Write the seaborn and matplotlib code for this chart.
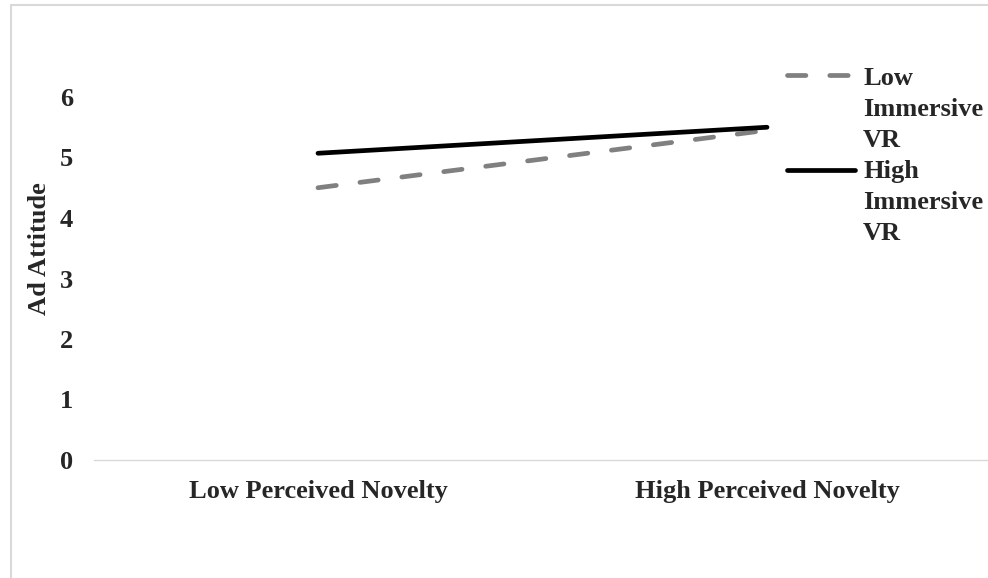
import matplotlib
matplotlib.use("Agg")
import matplotlib.pyplot as plt
import seaborn as sns
import pandas as pd
from matplotlib.lines import Line2D
from matplotlib.patches import Rectangle

# ---- data ----
categories = ["Low Perceived Novelty", "High Perceived Novelty"]
low_immersive = [4.50, 5.45]
high_immersive = [5.07, 5.50]
series_names = ["Low Immersive VR", "High Immersive VR"]
legend_lines = [["Low", "Immersive", "VR"], ["High", "Immersive", "VR"]]
y_ticks = [0, 1, 2, 3, 4, 5, 6]
y_label = "Ad Attitude"

df = pd.DataFrame({
    "Novelty": categories * 2,
    "Ad Attitude": low_immersive + high_immersive,
    "Condition": [series_names[0]] * 2 + [series_names[1]] * 2,
})

sns.set_theme(style="white")
plt.rcParams["font.family"] = ["Liberation Serif", "DejaVu Serif"]
plt.rcParams["font.weight"] = "bold"

W, H = 988, 578
FS = 19
fig = plt.figure(figsize=(W / 100, H / 100), dpi=100)
fig.patch.set_facecolor("white")
ax = fig.add_axes([93.5 / W, (H - 460) / H, 898 / W, 7 * 60.5 / H])

colors = {series_names[0]: "#808080", series_names[1]: "#000000"}
dash_pat = (3.9, 5.05)
LW = 3.4
sns.lineplot(data=df, x="Novelty", y="Ad Attitude", hue="Condition", style="Condition",
             hue_order=series_names, style_order=series_names,
             palette=colors,
             dashes={series_names[0]: dash_pat, series_names[1]: ""},
             linewidth=LW, dash_capstyle="round", solid_capstyle="round",
             errorbar=None, sort=False, legend=False, ax=ax)

ax.set_xlim(-0.5, 1.5)
ax.set_ylim(0, 7)
ax.set_yticks(y_ticks)
ax.set_yticklabels([str(t) for t in y_ticks], fontsize=FS, fontweight="bold")
ax.set_xticks(range(len(categories)))
ax.set_xticklabels(categories, fontsize=FS, fontweight="bold")
ax.set_xlabel("")
ax.set_ylabel(y_label, fontsize=FS, fontweight="bold", labelpad=6.2)
ax.tick_params(axis="y", length=0, pad=14.8)
ax.tick_params(axis="x", length=0, pad=14.5)
ax.grid(False)
for s in ["left", "top", "right"]:
    ax.spines[s].set_visible(False)
ax.spines["bottom"].set_color("#d9d9d9")
ax.spines["bottom"].set_linewidth(1.0)

# legend (manual, Excel-like: handle aligned with first line)
def fy(py):
    return 1 - py / H

fig.add_artist(Line2D([787.3 / W, 847.7 / W], [fy(75), fy(75)], transform=fig.transFigure,
                      color=colors[series_names[0]], linewidth=LW, dashes=dash_pat,
                      dash_capstyle="round"))
fig.add_artist(Line2D([787.3 / W, 855 / W], [fy(170), fy(170)], transform=fig.transFigure,
                      color=colors[series_names[1]], linewidth=LW,
                      solid_capstyle="round"))
baselines = [[85, 116, 147], [178, 209, 240]]
for lines, bls in zip(legend_lines, baselines):
    for txt, b in zip(lines, bls):
        fig.text(863 / W, fy(b), txt, ha="left", va="baseline", fontsize=FS,
                 fontweight="bold")

# chart border
fig.add_artist(Rectangle((11 / W, -0.05), 1.2, (1 - 5.5 / H) + 0.05,
                         transform=fig.transFigure, fill=False,
                         edgecolor="#d9d9d9", linewidth=1.5, clip_on=False))

fig.savefig("out.png", dpi=100)
